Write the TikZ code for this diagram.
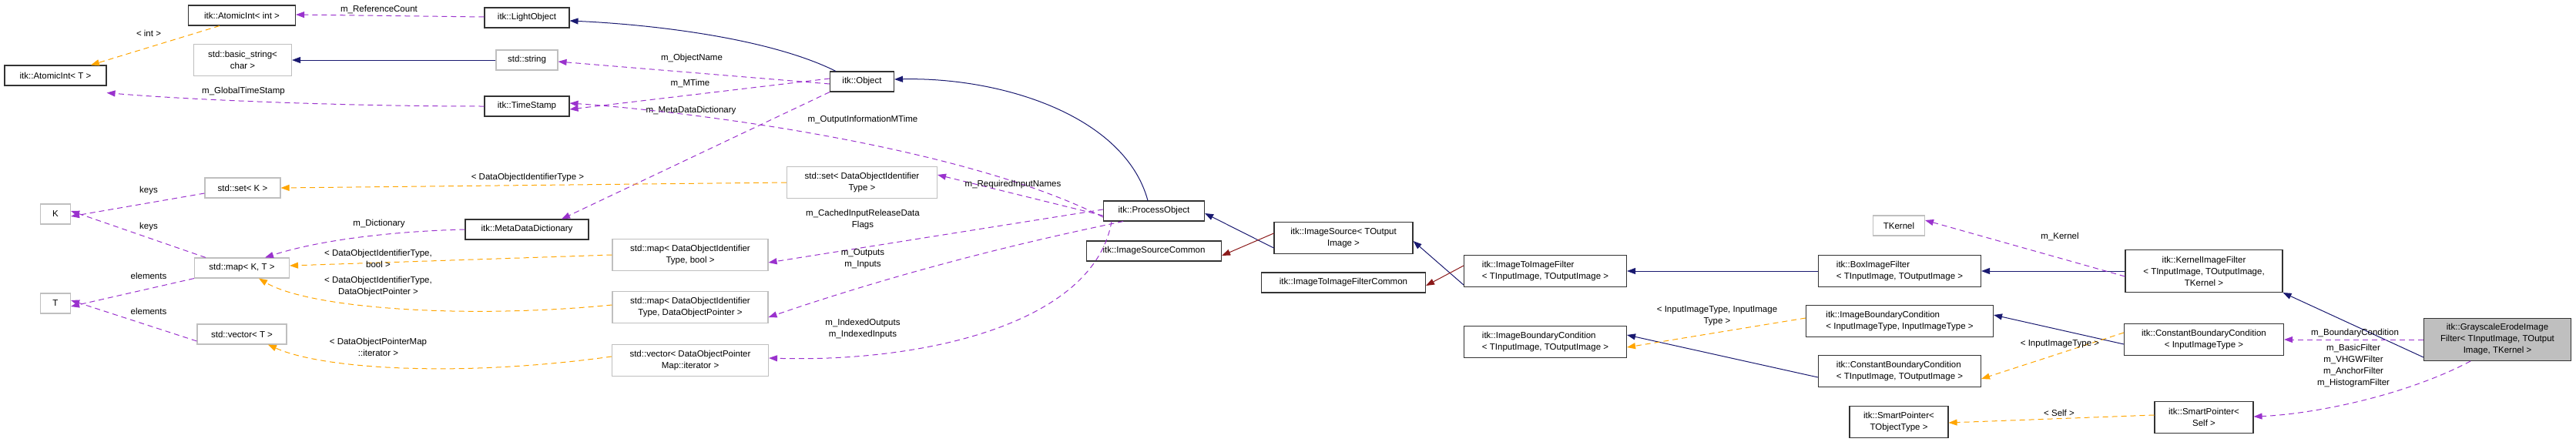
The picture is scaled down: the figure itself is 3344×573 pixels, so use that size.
\documentclass[tikz,border=0pt]{standalone}
\usepackage{fontspec}
\setmainfont{Liberation Sans}
\usetikzlibrary{arrows.meta}
\definecolor{navy}{HTML}{191970}
\definecolor{usecol}{HTML}{9A32CD}
\definecolor{tmpl}{HTML}{FFA500}
\definecolor{dred}{HTML}{8B1A1A}
\definecolor{ugray}{HTML}{BFBFBF}
\begin{document}
\begin{tikzpicture}[x=1pt,y=-1pt,
  box/.style={draw,line width=1.1pt,inner xsep=3pt,inner ysep=0pt,align=center,font=\fontsize{11.5}{15}\selectfont},
  doc/.style={box,draw=black!80},
  undoc/.style={box,draw=ugray},
  lab/.style={inner sep=0pt,align=center,font=\fontsize{11.5}{15}\selectfont},
  tip/.style={-{Triangle[length=11pt,width=8pt]}},
  inh/.style={tip,draw=navy,line width=1pt,navy},
  red/.style={tip,draw=dred,line width=1pt,dred},
  use/.style={tip,draw=usecol,line width=1pt,usecol,dash pattern=on 7pt off 5pt},
  tpl/.style={tip,draw=tmpl,line width=1pt,tmpl,dash pattern=on 7pt off 5pt}]
\useasboundingbox (0,0) rectangle (3344,573);
% nodes
\node[doc,minimum width=139pt,minimum height=26pt] (ai) at (314,20) {itk::AtomicInt< int >};
\node[doc,minimum width=132pt,minimum height=26pt] (at) at (72,98) {itk::AtomicInt< T >};
\node[undoc,minimum width=127pt,minimum height=41pt] (bs) at (315,78) {std::basic\_string<\\char >};
\node[doc,minimum width=110pt,minimum height=26pt] (lo) at (684,23) {itk::LightObject};
\node[undoc,minimum width=80pt,minimum height=26pt] (str) at (684,78) {std::string};
\node[doc,minimum width=110pt,minimum height=26pt] (ts) at (684,138) {itk::TimeStamp};
\node[doc,minimum width=83pt,minimum height=26pt] (obj) at (1119,106) {itk::Object};
\node[undoc,minimum width=98pt,minimum height=26pt] (setk) at (315,244) {std::set< K >};
\node[undoc,minimum width=39pt,minimum height=26pt] (K) at (72,278) {K};
\node[doc,minimum width=160pt,minimum height=26pt] (mdd) at (684,298) {itk::MetaDataDictionary};
\node[undoc,minimum width=123pt,minimum height=26pt] (mapkt) at (314,348) {std::map< K, T >};
\node[undoc,minimum width=39pt,minimum height=26pt] (T) at (72,394) {T};
\node[undoc,minimum width=116pt,minimum height=26pt] (vect) at (314,434) {std::vector< T >};
\node[undoc,minimum width=195pt,minimum height=41pt] (setd) at (1119,237) {std::set< DataObjectIdentifier\\Type >};
\node[undoc,minimum width=202pt,minimum height=41pt] (mapb) at (896,331) {std::map< DataObjectIdentifier\\Type, bool >};
\node[undoc,minimum width=202pt,minimum height=41pt] (mapd) at (896,399) {std::map< DataObjectIdentifier\\Type, DataObjectPointer >};
\node[undoc,minimum width=203pt,minimum height=41pt] (vecd) at (896,468) {std::vector< DataObjectPointer\\Map::iterator >};
\node[doc,minimum width=131pt,minimum height=26pt] (po) at (1498,274) {itk::ProcessObject};
\node[doc,minimum width=175pt,minimum height=26pt] (isc) at (1498,326) {itk::ImageSourceCommon};
\node[doc,minimum width=180pt,minimum height=41pt] (is) at (1744,309) {itk::ImageSource< TOutput\\Image >};
\node[doc,minimum width=213pt,minimum height=26pt] (itifc) at (1744,367) {itk::ImageToImageFilterCommon};
\node[doc,minimum width=211pt,minimum height=41pt,align=left] (itif) at (2006,352) {itk::ImageToImageFilter\\< TInputImage, TOutputImage >};
\node[doc,minimum width=211pt,minimum height=41pt,align=left] (ibct) at (2006,444) {itk::ImageBoundaryCondition\\< TInputImage, TOutputImage >};
\node[undoc,minimum width=67pt,minimum height=26pt] (tk) at (2465,293) {TKernel};
\node[doc,minimum width=211pt,minimum height=41pt,align=left] (box) at (2466,352) {itk::BoxImageFilter\\< TInputImage, TOutputImage >};
\node[doc,minimum width=243pt,minimum height=41pt,align=left] (ibci) at (2466,417) {itk::ImageBoundaryCondition\\< InputImageType, InputImageType >};
\node[doc,minimum width=211pt,minimum height=41pt,align=left] (cbct) at (2466,482) {itk::ConstantBoundaryCondition\\< TInputImage, TOutputImage >};
\node[doc,minimum width=128pt,minimum height=41pt] (spt) at (2465,548) {itk::SmartPointer<\\TObjectType >};
\node[doc,minimum width=204pt,minimum height=55pt] (kif) at (2861,352) {itk::KernelImageFilter\\< TInputImage, TOutputImage,\\TKernel >};
\node[doc,minimum width=207pt,minimum height=41pt] (cbci) at (2861,441) {itk::ConstantBoundaryCondition\\< InputImageType >};
\node[doc,minimum width=128pt,minimum height=41pt] (sps) at (2861,542) {itk::SmartPointer<\\Self >};
\node[doc,fill=ugray,minimum width=191pt,minimum height=55pt] (gs) at (3242,441) {itk::GrayscaleErodeImage\\Filter< TInputImage, TOutput\\Image, TKernel >};
% inheritance
\draw[inh] (str) -- (bs);
\draw[inh] ([xshift=-34pt]obj.north) .. controls (1000,50) and (850,32) .. ([yshift=-4pt]lo.east);
\draw[inh] ([xshift=-8pt]po.north) .. controls (1460,150) and (1300,100) .. ([yshift=3pt]obj.east);
\draw[inh] ([yshift=-13pt]is.west) -- ([yshift=-3pt]po.east);
\draw[red] ([yshift=6pt]is.west) -- ([yshift=-6pt]isc.east);
\draw[inh] ([yshift=-18pt]itif.west) -- ([yshift=-4pt]is.east);
\draw[red] ([yshift=7pt]itif.west) -- ([yshift=-4pt]itifc.east);
\draw[inh] (box) -- (itif);
\draw[inh] (kif.west) -- (box.east);
\draw[inh] ([yshift=-23pt]gs.west) -- (kif.south east);
\draw[inh] ([yshift=-6pt]cbci.west) -- ([yshift=8pt]ibci.east);
\draw[inh] ([yshift=-8pt]cbct.west) -- ([yshift=9pt]ibct.east);
% usage
\draw[use] ([yshift=1pt]lo.west) -- ([yshift=1pt]ai.east);
\node[lab] (l1) at (492,12) {m\_ReferenceCount};
\draw[use] (ts.west) .. controls (450,138) and (250,130) .. ([yshift=-9pt]at.south east);
\node[lab] (l2) at (316,119) {m\_GlobalTimeStamp};
\draw[use] ([yshift=-3pt]obj.west) -- ([yshift=-2pt]str.east);
\node[lab] (l3) at (898,76) {m\_ObjectName};
\draw[use] ([yshift=4pt]obj.west) -- ([yshift=-4pt]ts.east);
\node[lab] (l4) at (896,108) {m\_MTime};
\draw[use] (obj.south west) -- ([xshift=45pt]mdd.north);
\node[lab,fill=white,inner sep=1pt] (l5) at (897,144) {m\_MetaDataDictionary};
\draw[use] ([yshift=-8pt]po.west) .. controls (1250,190) and (900,145) .. ([yshift=4pt]ts.east);
\node[lab] (l6) at (1120,156) {m\_OutputInformationMTime};
\draw[use] ([yshift=-6pt]po.west) -- ([yshift=10pt]setd.east);
\node[lab] (l7) at (1315,240) {m\_RequiredInputNames};
\draw[use] ([yshift=2pt]po.west) -- ([yshift=-10pt]mapb.east);
\node[lab] (l8) at (1120,285) {m\_CachedInputReleaseData\\Flags};
\draw[use] ([xshift=-40pt]po.south) .. controls (1300,320) and (1150,360) .. ([yshift=-13pt]mapd.east);
\node[lab] (l9) at (1120,336) {m\_Outputs\\m\_Inputs};
\draw[use] ([xshift=-55pt]po.south) .. controls (1420,420) and (1200,471) .. ([yshift=3pt]vecd.east);
\node[lab] (l10) at (1120,427) {m\_IndexedOutputs\\m\_IndexedInputs};
\draw[use] ([yshift=-7pt]setk.west) -- ([yshift=-3pt]K.east);
\node[lab] (l11) at (193,248) {keys};
\draw[use] ([xshift=-47pt]mapkt.north) -- ([yshift=4pt]K.east);
\node[lab] (l12) at (193,295) {keys};
\draw[use] (mdd.west) .. controls (520,300) and (420,310) .. ([xshift=30pt]mapkt.north);
\node[lab] (l13) at (492,291) {m\_Dictionary};
\draw[use] (mapkt.south west) -- ([yshift=-4pt]T.east);
\node[lab] (l14) at (193,358) {elements};
\draw[use] ([yshift=-9pt]vect.west) -- ([yshift=4pt]T.east);
\node[lab] (l15) at (193,404) {elements};
\draw[use] ([yshift=-7pt]kif.west) -- ([yshift=7pt]tk.east);
\node[lab] (l16) at (2674,307) {m\_Kernel};
\draw[use] (gs.west) -- (cbci.east);
\node[lab] (l17) at (3057,433) {m\_BoundaryCondition};
\draw[use] ([xshift=-35pt]gs.south) .. controls (3120,515) and (3000,538) .. ([yshift=1pt]sps.east);
\node[lab] (l18) at (3055,475) {m\_BasicFilter\\m\_VHGWFilter\\m\_AnchorFilter\\m\_HistogramFilter};
% template
\draw[tpl] ([xshift=-29pt]ai.south) -- ([xshift=46pt]at.north);
\node[lab] (l19) at (193,43) {< int >};
\draw[tpl] (setd.west) -- (setk.east);
\node[lab] (l20) at (685,231) {< DataObjectIdentifierType >};
\draw[tpl] (mapb.west) -- ([yshift=3pt]mapkt.east);
\node[lab] (l21) at (491,336) {< DataObjectIdentifierType,\\bool >};
\draw[tpl] ([yshift=3pt]mapd.west) .. controls (600,415) and (400,400) .. ([xshift=22pt]mapkt.south);
\node[lab] (l22) at (491,372) {< DataObjectIdentifierType,\\DataObjectPointer >};
\draw[tpl] ([yshift=5pt]vecd.west) .. controls (600,490) and (420,480) .. ([xshift=34pt]vect.south);
\node[lab] (l23) at (491,451) {< DataObjectPointerMap\\::iterator >};
\draw[tpl] ([yshift=4pt]ibci.west) -- ([yshift=-7pt]ibct.east);
\node[lab] (l24) at (2229,410) {< InputImageType, InputImage\\Type >};
\draw[tpl] ([yshift=9pt]cbci.west) -- ([yshift=-10pt]cbct.east);
\node[lab] (l25) at (2674,447) {< InputImageType >};
\draw[tpl] ([yshift=3pt]sps.west) -- ([yshift=-1pt]spt.east);
\node[lab] (l26) at (2673,536) {< Self >};
\end{tikzpicture}
\end{document}
